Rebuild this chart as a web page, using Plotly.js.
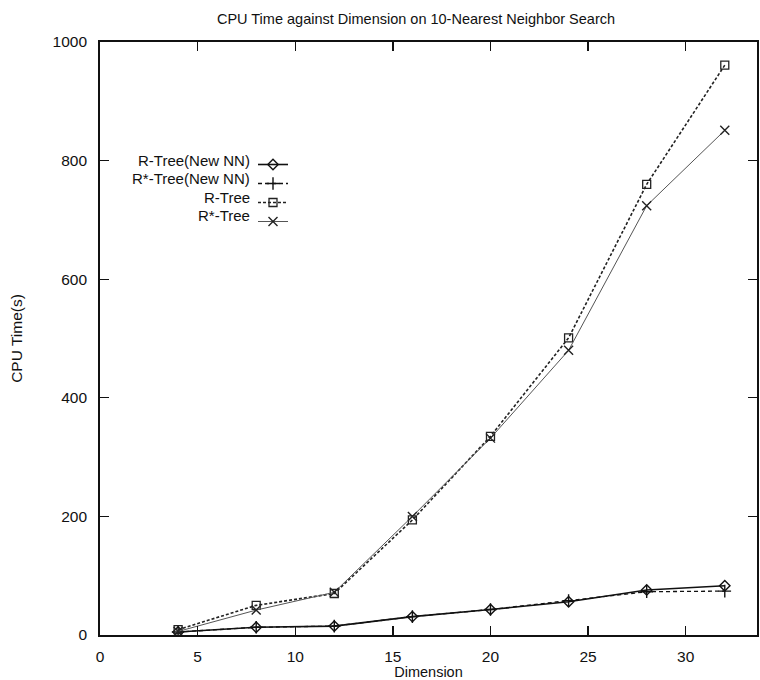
<!DOCTYPE html>
<html>
<head>
<meta charset="utf-8">
<script src="https://cdn.plot.ly/plotly-3.0.1.min.js"></script>
<style>
  html, body { margin: 0; padding: 0; background: #fff; }
  #chart { width: 760px; height: 680px; }
</style>
</head>
<body>
<div id="chart"></div>
<script>
// Data
const dimensions = [4, 8, 12, 16, 20, 24, 28, 32];
const rTreeNewNN = [5, 13, 15, 31, 43, 56, 76, 83];
const rStarTreeNewNN = [5, 13, 15, 31, 43, 58, 73, 74];
const rTree = [9, 50, 70, 194, 335, 501, 760, 961];
const rStarTree = [6, 42, 72, 200, 332, 480, 724, 851];

const seriesNames = ["R-Tree(New NN)", "R*-Tree(New NN)", "R-Tree", "R*-Tree"];
const xTicks = [0, 5, 10, 15, 20, 25, 30];
const yTicks = [0, 200, 400, 600, 800, 1000];

const FONT = "Liberation Sans, Arial, sans-serif";

const traces = [
  {
    x: dimensions, y: rTreeNewNN, name: "", meta: seriesNames[0],
    mode: "lines+markers", type: "scatter",
    line: { color: "#111", width: 1.6, dash: "solid" },
    marker: { symbol: "diamond-open", size: 8, color: "#111", line: { width: 1.4, color: "#111" } }
  },
  {
    x: dimensions, y: rStarTreeNewNN, name: "", meta: seriesNames[1],
    mode: "lines+markers", type: "scatter",
    line: { color: "#111", width: 1.3, dash: "4px,3px" },
    marker: { symbol: "cross-thin-open", size: 9, color: "#111", line: { width: 1.4, color: "#111" } }
  },
  {
    x: dimensions, y: rTree, name: "", meta: seriesNames[2],
    mode: "lines+markers", type: "scatter",
    line: { color: "#222", width: 1.6, dash: "3px,2px" },
    marker: { symbol: "square-open", size: 8, color: "#222", line: { width: 1.3, color: "#222" } }
  },
  {
    x: dimensions, y: rStarTree, name: "", meta: seriesNames[3],
    mode: "lines+markers", type: "scatter",
    line: { color: "#555", width: 1.0, dash: "solid" },
    marker: { symbol: "x-thin-open", size: 9, color: "#222", line: { width: 1.4, color: "#222" } }
  }
];

// Legend labels drawn to the left of the legend samples (as in the reference)
const legendRowY = [160.5, 179, 197.5, 216];
const annotations = seriesNames.map((n, i) => ({
  text: n, xref: "paper", yref: "paper",
  x: (252 - 100) / 657, y: 1 - (legendRowY[i] - 42) / 593,
  xanchor: "right", yanchor: "middle", showarrow: false,
  font: { family: FONT, size: 15, color: "#111" }
}));

const layout = {
  width: 760, height: 680,
  margin: { l: 100, r: 3, t: 42, b: 45 },
  paper_bgcolor: "#fff", plot_bgcolor: "#fff",
  font: { family: FONT, size: 15, color: "#111" },
  title: {
    text: "CPU Time against Dimension on 10-Nearest Neighbor Search",
    font: { family: FONT, size: 14.5, color: "#111" },
    x: 416 / 760, xanchor: "center", y: 1 - 19 / 680, yanchor: "middle"
  },
  xaxis: {
    range: [0, 33.65], tickvals: xTicks, ticktext: xTicks.map(String),
    ticks: "inside", ticklen: 9, tickwidth: 1.3, tickcolor: "#111",
    showline: true, linecolor: "#111", linewidth: 1.8, mirror: "ticks",
    showgrid: false, zeroline: false, ticklabelstandoff: 7,
    tickfont: { family: FONT, size: 15.5, color: "#111" },
    title: { text: "Dimension", standoff: 0, font: { family: FONT, size: 14.5, color: "#111" } }
  },
  yaxis: {
    range: [0, 1000], tickvals: yTicks, ticktext: yTicks.map(String),
    ticks: "inside", ticklen: 9, tickwidth: 1.3, tickcolor: "#111",
    showline: true, linecolor: "#111", linewidth: 1.8, mirror: "ticks",
    showgrid: false, zeroline: false, ticklabelstandoff: 8,
    tickfont: { family: FONT, size: 15.5, color: "#111" },
    title: { text: "CPU Time(s)", standoff: 26, font: { family: FONT, size: 15.5, color: "#111" } }
  },
  showlegend: true,
  legend: {
    x: (253 - 100) / 657, y: 1 - (150 - 42) / 593, xanchor: "left", yanchor: "top",
    bgcolor: "rgba(0,0,0,0)", borderwidth: 0,
    font: { family: FONT, size: 12 }, itemwidth: 30, tracegroupgap: 0
  },
  annotations: annotations
};

Plotly.newPlot("chart", traces, layout, { displayModeBar: false, staticPlot: true });
</script>
</body>
</html>
